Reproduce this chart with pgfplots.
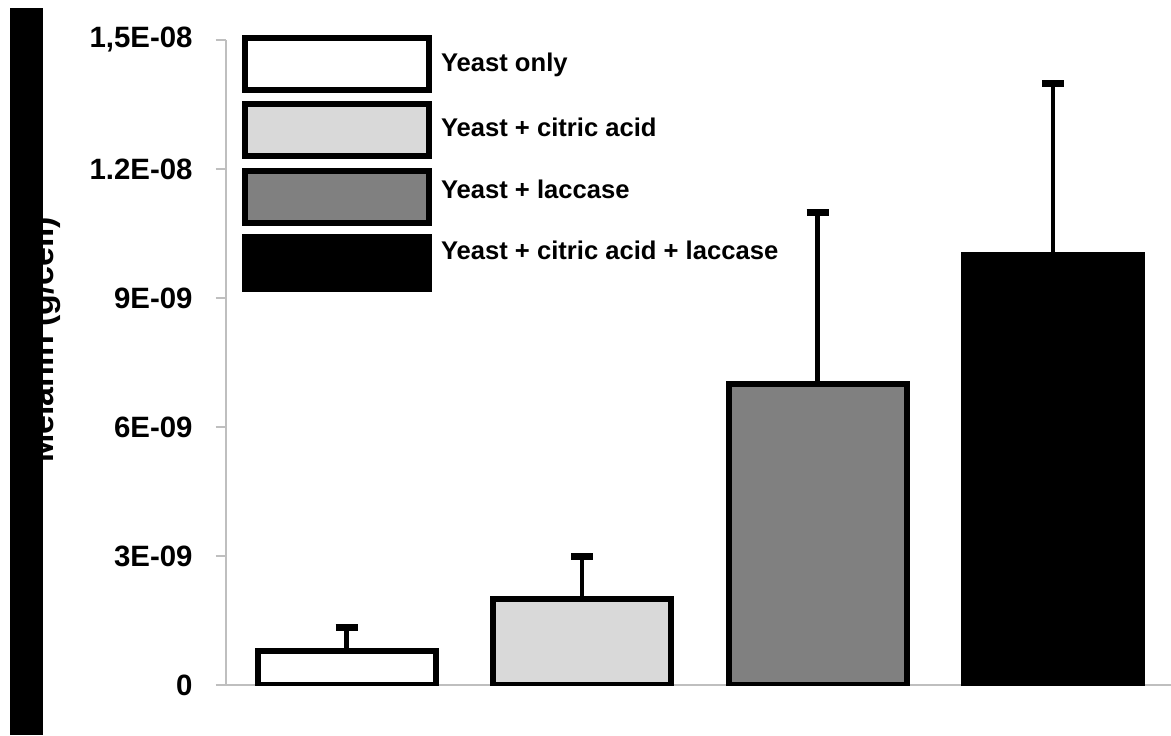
\documentclass[border=0pt]{standalone}
\usepackage{fontspec}
\setmainfont{Liberation Sans}
\usepackage{pgfplots}
\pgfplotsset{compat=1.18}
\definecolor{axgray}{RGB}{191,191,191}
\definecolor{lightbar}{RGB}{217,217,217}
\definecolor{midbar}{RGB}{128,128,128}
\pgfplotsset{
  mybar/.style={
    ybar, bar width=89pt, bar shift=0pt, draw=black, line width=3pt,
    /pgfplots/error bars/y dir=plus,
    /pgfplots/error bars/y explicit,
    /pgfplots/error bars/error bar style={black, line width=2.2pt},
    /pgfplots/error bars/error mark options={black, line width=3.5pt, mark size=5.5pt, rotate=90},
    /pgfplots/legend image code/.code={\draw[##1] (0pt,-13pt) rectangle (92pt,13pt);},
  },
}
\newcommand{\lift}[2]{\raisebox{#1}[0pt][0pt]{#2}}
\begin{document}
\begin{tikzpicture}
\useasboundingbox (0,0) rectangle (585.5pt,367.5pt);
\fill[white] (0,0) rectangle (585.5pt,367.5pt);
\begin{axis}[
  at={(113pt,25pt)}, anchor=south west,
  scale only axis, width=472.5pt, height=322.5pt,
  xmin=-0.512, xmax=3.501,
  ymin=0, ymax=1.5e-8,
  axis x line*=bottom, axis y line*=left,
  axis line style={axgray, line width=1pt, -},
  xtick=\empty,
  scaled y ticks=false,
  ytick={0,3e-9,6e-9,9e-9,1.2e-8,1.5e-8},
  yticklabels={0,3E-09,6E-09,9E-09,1.2E-08,{1,5E-08}},
  ytick style={axgray, line width=1pt},
  tick align=outside,
  major tick length=5pt,
  yticklabel style={font=\bfseries\fontsize{14.7}{17}\selectfont, anchor=east, inner sep=0pt, xshift=-11.5pt},
  legend style={at={(axis description cs:0,1)}, anchor=north west, xshift=8pt, yshift=2.5pt,
    draw=none, fill=none, inner sep=0pt, outer sep=0pt, row sep=4.2pt, column sep=4.5pt,
    nodes={inner sep=0pt, outer sep=0pt},
    font=\bfseries\fontsize{12.8}{15}\selectfont},
  legend cell align=left,
]
\addplot[mybar, fill=white] coordinates {(0,0.78e-9) +- (0,0.55e-9)};
\addlegendentry{\lift{-4.5pt}{Yeast only}}
\addplot[mybar, fill=lightbar] coordinates {(1,2e-9) +- (0,1e-9)};
\addlegendentry{\lift{-4pt}{Yeast + citric acid}}
\addplot[mybar, fill=midbar] coordinates {(2,7e-9) +- (0,4e-9)};
\addlegendentry{\lift{-1.5pt}{Yeast + laccase}}
\addplot[mybar, fill=black] coordinates {(3,1e-8) +- (0,4e-9)};
\addlegendentry{\lift{1pt}{Yeast + citric acid + laccase}}
\end{axis}
\node[rotate=90, anchor=base, inner sep=0pt, font=\bfseries\fontsize{17}{20}\selectfont] at (27pt,197.5pt) {Melanin (g/cell)};
\fill[black] (5pt,0) rectangle (21.5pt,363.5pt);
\end{tikzpicture}
\end{document}
